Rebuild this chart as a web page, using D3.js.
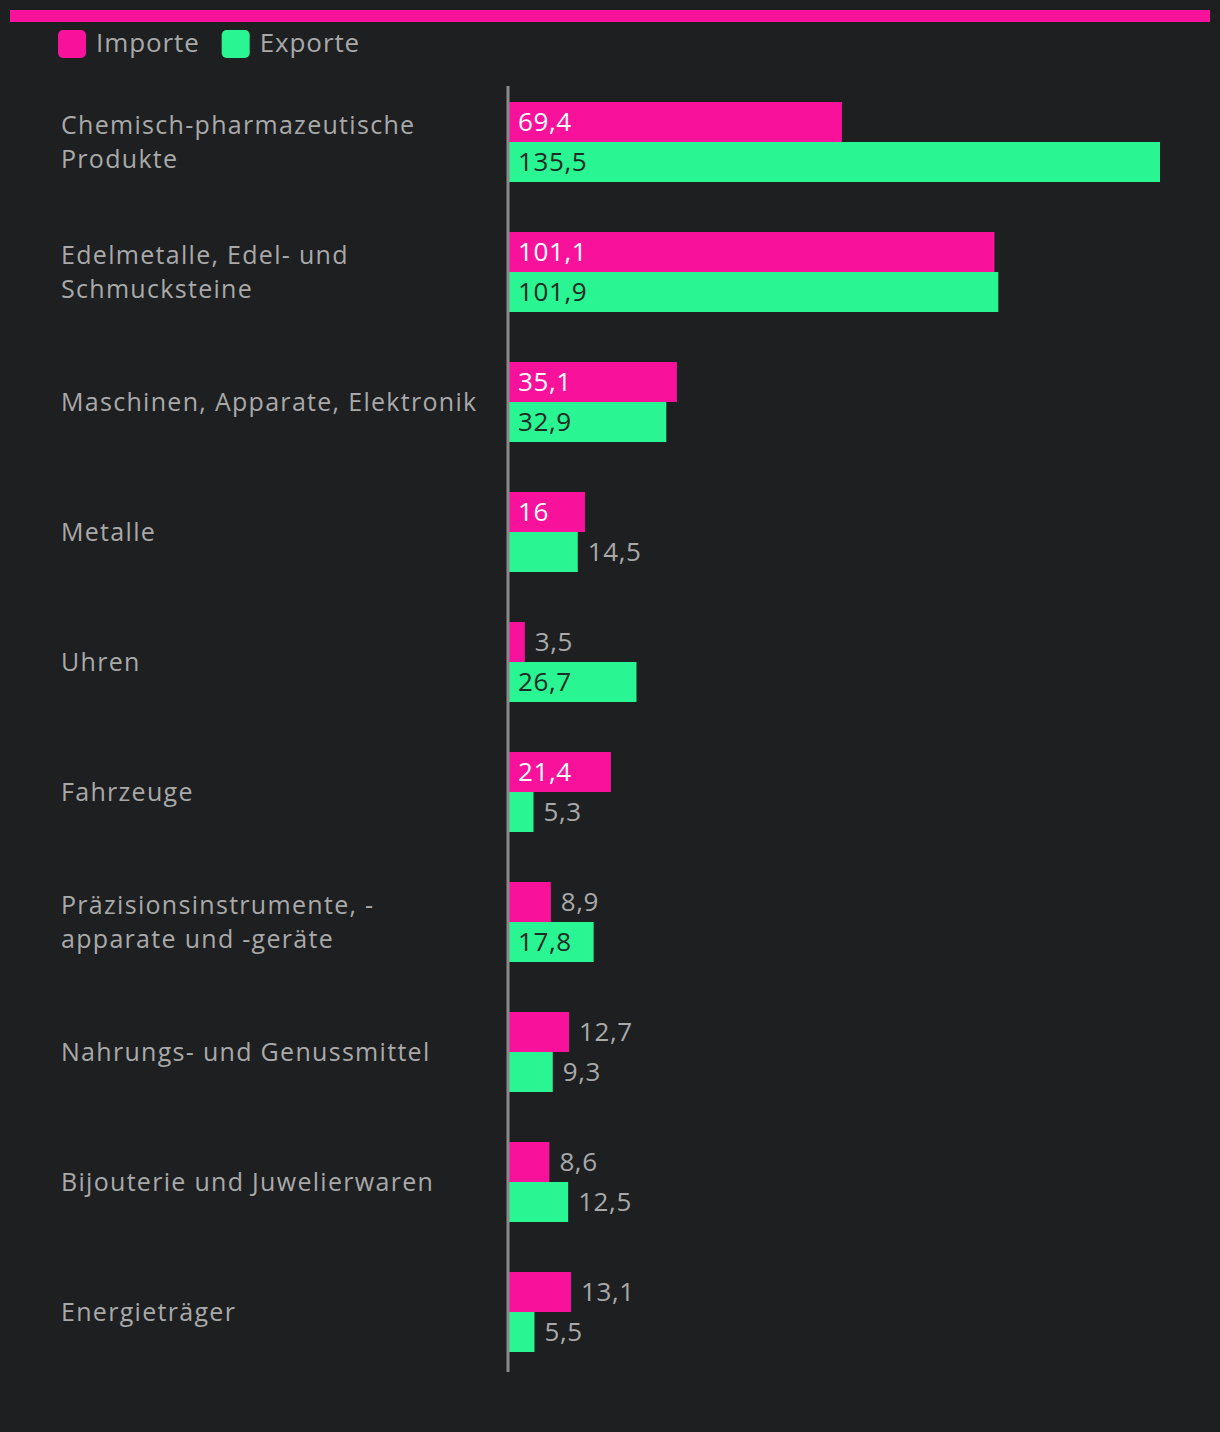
<!DOCTYPE html>
<html><head><meta charset="utf-8">
<script src="https://cdn.jsdelivr.net/npm/d3@7"></script>
<style>
html,body{margin:0;padding:0;background:#1e1f21;}
svg{display:block;font-family:"Open Sans","Noto Sans",sans-serif;}
</style></head>
<body><svg id="c" width="1220" height="1432"></svg>
<script>
const categories = [
  ["Chemisch-pharmazeutische","Produkte"],
  ["Edelmetalle, Edel- und","Schmucksteine"],
  ["Maschinen, Apparate, Elektronik"],
  ["Metalle"],
  ["Uhren"],
  ["Fahrzeuge"],
  ["Präzisionsinstrumente, -","apparate und -geräte"],
  ["Nahrungs- und Genussmittel"],
  ["Bijouterie und Juwelierwaren"],
  ["Energieträger"]
];
const importe = [69.4, 101.1, 35.1, 16, 3.5, 21.4, 8.9, 12.7, 8.6, 13.1];
const exporte = [135.5, 101.9, 32.9, 14.5, 26.7, 5.3, 17.8, 9.3, 12.5, 5.5];
const seriesNames = ["Importe", "Exporte"];

const pink = "#f7119b", green = "#29f592", grey = "#a9a9a9", bg = "#1e1f21";
const FS = 26, LS = 0.9;
const LFS = 25, LLS = 1.3, LH = 34.5;
const svg = d3.select("#c");
svg.append("rect").attr("width",1220).attr("height",1432).attr("fill",bg);
svg.append("rect").attr("x",10).attr("y",10).attr("width",1200).attr("height",12).attr("fill",pink);

// legend
const leg = svg.append("g");
let lx = 58;
seriesNames.forEach((n,i)=>{
  leg.append("rect").attr("x",lx).attr("y",30).attr("width",28).attr("height",28).attr("rx",5).attr("fill",i?green:pink);
  const t = leg.append("text").attr("x",lx+38).attr("y",52).attr("fill",grey).attr("font-size",FS).attr("letter-spacing",LS).text(n);
  lx += 38 + t.node().getComputedTextLength() + 22;
});

const idx = categories.map((d,i)=>i);
const y = d3.scaleBand().domain(idx).range([77,1377]).paddingInner(50/130).paddingOuter(25/130);
const sub = d3.scaleBand().domain([0,1]).range([0,y.bandwidth()]);
const x = d3.scaleLinear().domain([0,135.5]).range([508,1160]);

// category labels
const lab = svg.append("g");
categories.forEach((lines,i)=>{
  const cy = y(i)+y.bandwidth()/2;
  const n = lines.length;
  lines.forEach((l,k)=>{
    lab.append("text").attr("x",61).attr("y",cy + (k-(n-1)/2)*LH + 9)
      .attr("fill",grey).attr("font-size",LFS).attr("letter-spacing",LLS).text(l);
  });
});

const fmt = v => String(v).replace(".",",");
const series = [importe, exporte];
series.forEach((vals,s)=>{
  vals.forEach((v,i)=>{
    const by = y(i)+sub(s);
    const w = x(v)-x(0);
    svg.append("rect").attr("x",x(0)).attr("y",by).attr("width",w).attr("height",sub.bandwidth()).attr("fill",s?green:pink);
    const t = svg.append("text").attr("y",by+29).attr("font-size",FS).attr("letter-spacing",0.6).text(fmt(v));
    const tw = t.node().getComputedTextLength();
    if (tw + 18 < w) {
      t.attr("x",x(0)+10).attr("fill",s?"#1f2a24":"#ffffff");
    } else {
      t.attr("x",x(v)+10).attr("fill",grey);
    }
  });
});

// axis line
svg.append("line").attr("x1",508).attr("x2",508).attr("y1",86).attr("y2",1372).attr("stroke","#8a8a8a").attr("stroke-width",3);
</script></body></html>
